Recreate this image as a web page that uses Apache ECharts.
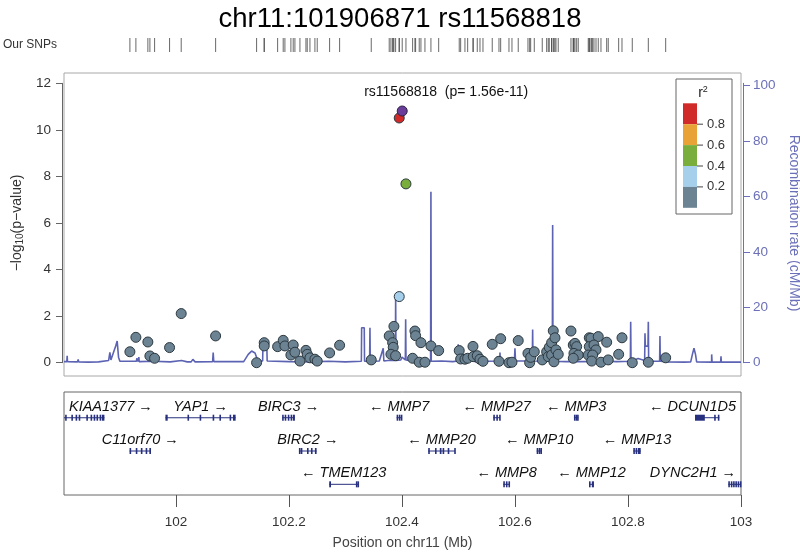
<!DOCTYPE html>
<html><head><meta charset="utf-8">
<script src="https://cdn.jsdelivr.net/npm/echarts@6/dist/echarts.min.js"></script>
<style>html,body{margin:0;padding:0;background:#fff}#c{width:800px;height:552px}</style>
</head><body><div id="c"></div>
<script>
// ---------------- data ----------------
const chartTitle = 'chr11:101906871 rs11568818';
const xMin = 101.802, xMax = 103.0;
const xTicks = [102, 102.2, 102.4, 102.6, 102.8, 103];
const yTicksLeft = [0, 2, 4, 6, 8, 10, 12];
const yTicksRight = [0, 20, 40, 60, 80, 100];
const ldColors = ['#6b8393', '#a6cfec', '#7aae3c', '#e8a235', '#d02b28']; // <0.2, .2-.4, .4-.6, .6-.8, >=.8
const ldTickLabels = ['0.2', '0.4', '0.6', '0.8'];
const leadColor = '#6a3d9a';
const leadSnp = ['rs11568818', 102.4005, 10.81, '1.56e-11'];

// [position Mb, -log10 p] r2 < 0.2
const greySnps = [
  [101.9186,0.47],[101.9292,1.09],[101.9504,0.89],[101.954,0.29],[101.9623,0.19],[101.9888,0.65],[102.0094,2.11],[102.0703,1.15],
  [102.1428,0.0],[102.1563,0.86],[102.1563,0.72],[102.18,0.69],[102.1899,0.96],[102.1929,0.72],[102.2076,0.76],[102.2035,0.33],
  [102.2106,0.45],[102.2195,0.07],[102.2301,0.53],[102.2324,0.36],[102.2372,0.21],[102.246,0.15],[102.2501,0.07],[102.272,0.42],
  [102.2897,0.75],[102.3457,0.12],[102.3858,1.56],[102.3775,1.15],[102.3835,0.86],[102.3846,0.66],[102.3805,0.36],[102.3888,0.30],
  [102.423,1.36],[102.4242,1.16],[102.4336,0.86],[102.4189,0.19],[102.4306,0.02],[102.4407,0.02],[102.4513,0.72],[102.465,0.52],
  [102.5014,0.52],[102.5039,0.16],[102.5115,0.15],[102.5163,0.19],[102.5257,0.70],[102.5262,0.26],[102.5333,0.30],[102.5381,0.15],
  [102.5434,0.06],[102.5598,0.79],[102.5747,1.03],[102.5717,0.06],[102.5894,0.0],[102.5947,0.02],[102.6058,0.95],
  [102.623,0.40],[102.626,0.0],[102.6278,0.23],[102.6342,0.47],[102.6483,0.12],[102.6561,0.47],[102.6589,0.26],[102.6607,0.66],
  [102.6649,0.86],[102.6678,1.37],[102.6708,1.07],[102.6649,0.33],[102.669,0.04],[102.6726,0.55],[102.6766,0.36],
  [102.6991,1.36],[102.7032,0.76],[102.7062,0.83],[102.7092,0.69],[102.7044,0.40],[102.712,0.33],[102.7032,0.19],
  [102.7315,1.07],[102.7345,1.05],[102.7474,1.12],[102.7315,0.69],[102.7398,0.76],[102.7434,0.55],[102.7297,0.33],[102.7375,0.33],
  [102.7358,0.07],[102.7522,0.02],[102.7623,0.88],[102.7651,0.12],[102.7835,0.36],[102.7894,1.07],[102.8076,0.0],[102.836,0.02],
  [102.8667,0.21]
];
// [position Mb, -log10 p, r2 bin]
const ldSnps = [[102.3952,2.84,1],[102.4071,7.68,2],[102.3952,10.51,4]];

// recombination rate [position Mb, cM/Mb]
const recomb = [
  [101.802,0.4],[101.807,0.4],[101.8076,2.5],[101.8082,0.4],[101.826,0.3],[101.8271,1.2],[101.828,0.3],
  [101.845,0.2],[101.846,0.9],[101.847,0.2],[101.863,0.3],[101.8642,1.0],[101.865,0.3],
  [101.881,0.8],[101.8832,3.7],[101.885,1.0],[101.8875,1.5],[101.8935,6],[101.8961,7.8],[101.8985,2],[101.9009,0.5],
  [101.93,0.5],[101.931,1.6],[101.932,0.4],[101.934,0.4],[101.9345,2.0],[101.935,0.4],
  [101.96,0.5],[101.99,0.3],[102.01,0.8],[102.02,0.3],[102.027,0.3],[102.030,1.2],[102.034,0.3],
  [102.065,0.4],[102.066,3.7],[102.067,0.4],[102.12,0.4],[102.128,3],[102.134,4.2],[102.14,3.5],[102.1451,0.6],
  [102.1535,0.6],[102.154,5.4],[102.161,5.4],[102.1615,0.6],[102.2,0.4],[102.24,0.3],[102.27,0.5],[102.3,0.3],
  [102.3282,0.5],[102.3287,12.6],[102.3333,12.6],[102.3338,0.5],[102.3428,0.5],[102.3434,12.6],[102.344,0.5],
  [102.36,0.6],[102.3669,5.2],[102.368,0.6],[102.375,0.8],[102.3883,0.8],[102.3889,23.8],[102.3895,0.8],
  [102.398,1],[102.4,2],[102.406,1],[102.4066,15.7],[102.4072,1],[102.42,0.5],[102.43,1.0],[102.44,0.5],
  [102.4507,0.5],[102.4513,61.7],[102.4519,0.5],[102.47,0.6],[102.49,0.4],[102.499,0.6],[102.4996,6.7],[102.5002,0.6],
  [102.52,1.5],[102.53,0.3],[102.55,0.5],[102.573,0.6],[102.5735,3.7],[102.574,0.6],[102.599,0.6],[102.6,5.2],[102.601,0.6],
  [102.6307,0.6],[102.6313,12],[102.6319,0.6],[102.66,0.5],[102.6661,0.5],[102.6667,49.7],[102.6673,0.5],
  [102.69,0.4],[102.72,0.4],[102.76,0.5],[102.78,0.4],[102.8042,0.5],[102.8048,14.8],[102.8054,0.5],[102.818,1.5],
  [102.8295,0.8],[102.8301,10.6],[102.8307,6],[102.8354,6],[102.836,14.8],[102.8366,0.5],[102.856,0.5],[102.8566,9.6],[102.8572,0.5],
  [102.87,0.3],[102.9,0.2],[102.911,0.3],[102.914,3],[102.9168,5.2],[102.9195,3],[102.9215,0.3],
  [102.948,0.2],[102.9481,3],[102.9488,0.2],[102.964,0.2],[102.9646,2.3],[102.9652,0.2],[103.0,0.2]
];

// genes
const geneNames  = ['KIAA1377','YAP1','BIRC3','MMP7','MMP27','MMP3','DCUN1D5','C11orf70','BIRC2','MMP20','MMP10','MMP13','TMEM123','MMP8','MMP12','DYNC2H1'];
const geneStart  = [101.79,101.9815,102.188,102.3906,102.5616,102.7044,102.9186,101.918,102.2177,102.4465,102.6384,102.8094,102.2713,102.5793,102.731,102.9775];
const geneEnd    = [101.8735,102.1057,102.2106,102.3995,102.5735,102.712,102.9616,101.956,102.249,102.4938,102.6473,102.8225,102.3227,102.5912,102.7398,103.05];
const geneStrand = ['+','+','+','-','-','-','-','+','+','-','-','-','-','-','-','+'];
const geneRow    = [1,1,1,1,1,1,1,2,2,2,2,2,3,3,3,3];
const geneExons  = [
  [[101.804,101.806],[101.815,101.8165],[101.8225,101.824],[101.828,101.8295],[101.8415,101.843],[101.849,101.8505],[101.8545,101.856],[101.8595,101.861],[101.865,101.8665],[101.869,101.8735]],
  [[101.9815,101.9855],[102.0205,102.022],[102.042,102.0435],[102.065,102.0665],[102.077,102.0785],[102.095,102.0965],[102.101,102.1057]],
  [[102.188,102.1895],[102.1925,102.1945],[102.198,102.200],[102.203,102.205],[102.207,102.2106]],
  [[102.3906,102.3925],[102.3945,102.396],[102.398,102.3995]],
  [[102.5616,102.5645],[102.567,102.5685],[102.572,102.5735]],
  [[102.7044,102.7065],[102.7075,102.709],[102.71,102.712]],
  [[102.9186,102.936],[102.9525,102.954],[102.959,102.9616]],
  [[101.918,101.9195],[101.929,101.9305],[101.938,101.9395],[101.9465,101.948],[101.953,101.956]],
  [[102.2177,102.2195],[102.221,102.2225],[102.232,102.2335],[102.239,102.2405],[102.246,102.249]],
  [[102.4465,102.448],[102.4585,102.46],[102.467,102.47],[102.472,102.474],[102.481,102.4825],[102.4925,102.4938]],
  [[102.6384,102.6405],[102.642,102.6435],[102.645,102.6473]],
  [[102.8094,102.8115],[102.8135,102.8155],[102.8175,102.8225]],
  [[102.2713,102.2745],[102.3185,102.3197],[102.3213,102.3227]],
  [[102.5793,102.582],[102.584,102.586],[102.5885,102.5912]],
  [[102.731,102.7335],[102.736,102.7398]],
  [[102.9775,102.9795],[102.982,102.9835],[102.986,102.9875],[102.990,102.9915],[102.994,102.9955],[102.998,103.0]]
];

// ---------------- drawing ----------------
const FONT = '"Liberation Sans", Arial, Helvetica, sans-serif';
const geneColor = '#27307e';
const recombColor = '#5c63b3';
const geneFont = 'italic 14.5px ' + FONT;
const measureCtx = document.createElement('canvas').getContext('2d');
measureCtx.font = geneFont;

function geneLabel(i) {
  return geneStrand[i] === '+' ? geneNames[i] + ' \u2192' : '\u2190 ' + geneNames[i];
}

function renderGene(params, api) {
  const idx = api.value(3);
  const row = api.value(2);
  const cs = params.coordSys;
  const L = cs.x, R = cs.x + cs.width;
  const p1 = api.coord([api.value(0), row]);
  const p2 = api.coord([api.value(1), row]);
  const y = p1[1];
  const x1 = Math.max(L, p1[0]), x2 = Math.min(R, p2[0]);
  const children = [];
  children.push({type: 'rect', shape: {x: x1, y: y - 0.5, width: Math.max(1, x2 - x1), height: 1}, style: {fill: geneColor}});
  geneExons[idx].forEach(function (ex) {
    let a = api.coord([ex[0], row])[0], b = api.coord([ex[1], row])[0];
    a = Math.max(L, a); b = Math.min(R, b);
    if (b < a) return;
    const w = Math.max(1.6, b - a);
    children.push({type: 'rect', shape: {x: a, y: y - 3, width: w, height: 6}, style: {fill: geneColor}});
  });
  const txt = geneLabel(idx);
  const tw = measureCtx.measureText(txt).width;
  let cx = (p1[0] + p2[0]) / 2;
  cx = Math.max(L + 5 + tw / 2, Math.min(R - 5 - tw / 2, cx));
  children.push({type: 'text', style: {x: cx, y: y - 11, text: txt, align: 'center', verticalAlign: 'middle',
    font: geneFont, fill: '#111'}});
  return {type: 'group', children: children};
}

const allPos = greySnps.map(d => d[0]).concat(ldSnps.map(d => d[0])).concat([leadSnp[1]]);

// legend graphic
const legX = 676, legY = 79, barX = 683, barY = 103.3, segH = 20.9;
const legendChildren = [
  {type: 'rect', shape: {x: legX, y: legY, width: 56, height: 135}, style: {fill: '#fff', stroke: '#666', lineWidth: 1}},
  {type: 'text', style: {x: legX + 27, y: legY + 14, text: 'r{s|2}', align: 'center', verticalAlign: 'middle', font: '14px ' + FONT, fill: '#222',
    rich: {s: {fontSize: 9, verticalAlign: 'top', padding: [0, 0, 7, 0]}}}}
];
for (let i = 0; i < 5; i++) {
  legendChildren.push({type: 'rect', shape: {x: barX, y: barY + i * segH, width: 14, height: segH}, style: {fill: ldColors[4 - i]}});
}
for (let i = 0; i < 4; i++) {
  const yy = barY + (i + 1) * segH;
  legendChildren.push({type: 'line', shape: {x1: barX + 14, y1: yy, x2: barX + 20, y2: yy}, style: {stroke: '#444', lineWidth: 1}});
  legendChildren.push({type: 'text', style: {x: barX + 24, y: yy, text: ldTickLabels[3 - i], align: 'left', verticalAlign: 'middle', font: '13px ' + FONT, fill: '#333'}});
}

const chart = echarts.init(document.getElementById('c'), null, {renderer: 'canvas'});
const hidden = {show: false};
chart.setOption({
  animation: false,
  backgroundColor: '#fff',
  title: {text: chartTitle, left: 'center', top: 0, textStyle: {fontSize: 27.5, fontWeight: 'normal', color: '#000', fontFamily: FONT}},
  grid: [
    {left: 64, top: 73, width: 677, height: 303, show: true, borderColor: '#a8a8a8', borderWidth: 1, backgroundColor: 'transparent', outerBoundsMode: 'none', containLabel: false},
    {left: 64, top: 83.3, width: 677, height: 279.4, outerBoundsMode: 'none', containLabel: false},
    {left: 64, top: 38, width: 677, height: 14, outerBoundsMode: 'none', containLabel: false},
    {left: 64, top: 392, width: 677, height: 103, show: true, borderColor: '#666', borderWidth: 1, backgroundColor: 'transparent', outerBoundsMode: 'none', containLabel: false}
  ],
  xAxis: [
    {gridIndex: 0, type: 'value', min: xMin, max: xMax, show: false},
    {gridIndex: 1, type: 'value', min: xMin, max: xMax, show: false},
    {gridIndex: 2, type: 'value', min: xMin, max: xMax, show: false},
    {gridIndex: 3, type: 'value', min: xMin, max: xMax, position: 'bottom',
      axisLine: {show: false},
      axisTick: {show: true, customValues: xTicks, length: 12, lineStyle: {color: '#555'}},
      axisLabel: {customValues: xTicks, margin: 20, fontSize: 13.5, color: '#333', fontFamily: FONT},
      splitLine: hidden,
      name: 'Position on chr11 (Mb)', nameLocation: 'middle', nameGap: 41,
      nameTextStyle: {fontSize: 14, color: '#444', fontFamily: FONT}}
  ],
  yAxis: [
    {gridIndex: 0, type: 'value', min: 0, max: 1, show: false},
    {gridIndex: 1, type: 'value', min: 0, max: 12, interval: 2, position: 'left', offset: 2,
      axisLine: {show: true, lineStyle: {color: '#666'}},
      axisTick: {show: true, length: 6, lineStyle: {color: '#666'}},
      axisLabel: {margin: 11, fontSize: 13.5, color: '#333', fontFamily: FONT},
      splitLine: hidden,
      name: '\u2212log{sub|10}(p\u2212value)', nameLocation: 'middle', nameGap: 37, nameRotate: 90,
      nameTextStyle: {fontSize: 14, color: '#333', fontFamily: FONT,
        rich: {sub: {fontSize: 10, verticalAlign: 'bottom', padding: [5, 0, 0, 0], color: '#333', fontFamily: FONT}}}},
    {gridIndex: 1, type: 'value', min: 0, max: 100.87, position: 'right', offset: 2,
      axisLine: {show: true, lineStyle: {color: '#6b70b8'}},
      axisTick: {show: true, length: 7, customValues: yTicksRight, lineStyle: {color: '#6b70b8'}},
      axisLabel: {customValues: yTicksRight, margin: 10, fontSize: 13.5, color: '#6b70b8', fontFamily: FONT},
      splitLine: hidden,
      name: 'Recombination rate (cM/Mb)', nameLocation: 'middle', nameGap: 42, nameRotate: -90,
      nameTextStyle: {fontSize: 14, color: '#6b70b8', fontFamily: FONT}},
    {gridIndex: 2, type: 'value', min: -1, max: 1, show: false},
    {gridIndex: 3, type: 'value', min: 0.228, max: 3.321, inverse: true, show: false}
  ],
  graphic: [
    {type: 'text', left: 3, top: 39, style: {text: 'Our SNPs', font: '12px ' + FONT, fill: '#333'}},
    {type: 'group', children: legendChildren, z: 100}
  ],
  series: [
    {type: 'line', xAxisIndex: 1, yAxisIndex: 2, data: recomb, showSymbol: false, symbol: 'none',
      lineStyle: {color: recombColor, width: 1.6}, z: 1, clip: false},
    {type: 'scatter', xAxisIndex: 1, yAxisIndex: 1, data: greySnps, symbolSize: 10, clip: false, z: 3,
      itemStyle: {color: ldColors[0], borderColor: '#2d3940', borderWidth: 1, opacity: 1}},
    {type: 'scatter', xAxisIndex: 1, yAxisIndex: 1, symbolSize: 10, clip: false, z: 4,
      data: ldSnps.map(d => ({value: [d[0], d[1]], itemStyle: {color: ldColors[d[2]]}})),
      itemStyle: {borderColor: '#2d3940', borderWidth: 1, opacity: 1}},
    {type: 'scatter', xAxisIndex: 1, yAxisIndex: 1, symbolSize: 10, clip: false, z: 5,
      data: [[leadSnp[1], leadSnp[2]]],
      itemStyle: {color: leadColor, borderColor: '#2d2540', borderWidth: 1, opacity: 1},
      label: {show: true, position: 'top', offset: [44, -1], formatter: leadSnp[0] + '  (p= ' + leadSnp[3] + ')',
        fontSize: 14, color: '#111', fontFamily: FONT}},
    {type: 'scatter', xAxisIndex: 2, yAxisIndex: 3, data: allPos.map(p => [p, 0]), symbol: 'rect', symbolSize: [1, 14],
      itemStyle: {color: '#444'}, clip: false},
    {type: 'custom', xAxisIndex: 3, yAxisIndex: 4, renderItem: renderGene, clip: false,
      encode: {x: [0, 1], y: 2},
      data: geneNames.map((n, i) => [geneStart[i], geneEnd[i], geneRow[i], i])}
  ]
});
</script>
</body></html>
